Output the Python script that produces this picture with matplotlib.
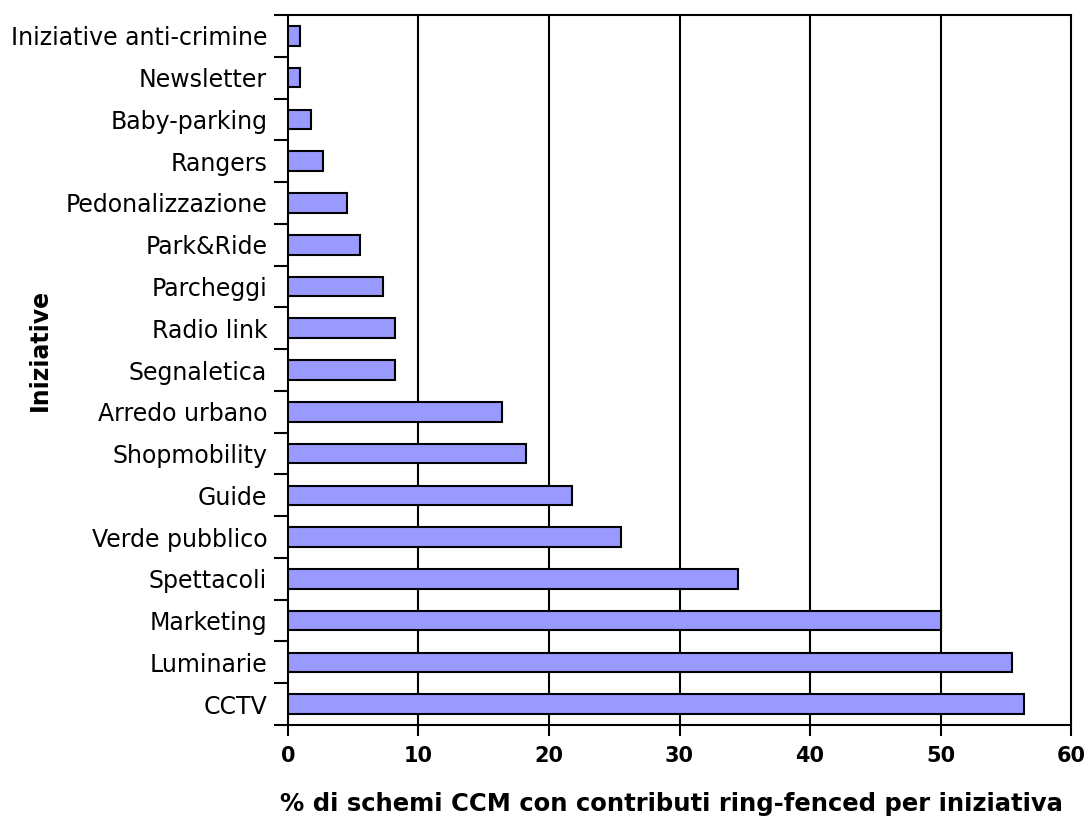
import numpy as np
import matplotlib.pyplot as plt

categorie = ['CCTV', 'Luminarie', 'Marketing', 'Spettacoli', 'Verde pubblico',
             'Guide', 'Shopmobility', 'Arredo urbano', 'Segnaletica', 'Radio link',
             'Parcheggi', 'Park&Ride', 'Pedonalizzazione', 'Rangers',
             'Baby-parking', 'Newsletter', 'Iniziative anti-crimine']
valori = [56.4, 55.5, 50.0, 34.5, 25.5, 21.8, 18.2, 16.4, 8.2, 8.2,
          7.3, 5.5, 4.5, 2.7, 1.8, 0.9, 0.9]
xticks = [0, 10, 20, 30, 40, 50, 60]

fig = plt.figure(figsize=(10.88, 8.21), dpi=100)
ax = fig.add_axes([0.2647, 0.1169, 0.7197, 0.8648])

y = np.arange(len(categorie))
ax.barh(y, valori, height=0.47, color='#9999FF', edgecolor='black', linewidth=1.5, zorder=3)

# griglia verticale
for v in xticks[1:-1]:
    ax.axvline(v, color='black', linewidth=1.5, zorder=1)

ax.set_xlim(0, 60)
ax.set_ylim(-0.5, len(categorie) - 0.5)
ax.set_xticks(xticks)
ax.set_xticklabels([str(v) for v in xticks], fontweight='bold', fontsize=15)
ax.set_yticks(y)
ax.set_yticklabels(categorie, fontsize=17)
ax.set_yticks(np.arange(-0.5, len(categorie)), minor=True)
ax.tick_params(axis='y', which='major', length=0, pad=15)
ax.tick_params(axis='y', which='minor', length=10, width=1.5, direction='out')
ax.tick_params(axis='x', which='major', length=8, width=1.5, direction='out', pad=7)

for s in ax.spines.values():
    s.set_linewidth(1.5)

ax.set_xlabel('% di schemi CCM con contributi ring-fenced per iniziativa',
              fontweight='bold', fontsize=17.5)
ax.xaxis.set_label_coords(0.49, -0.094)
ax.set_ylabel('Iniziative', fontweight='bold', fontsize=17)
ax.yaxis.set_label_coords(-0.301, 0.528)

fig.savefig('out.png', dpi=100)
